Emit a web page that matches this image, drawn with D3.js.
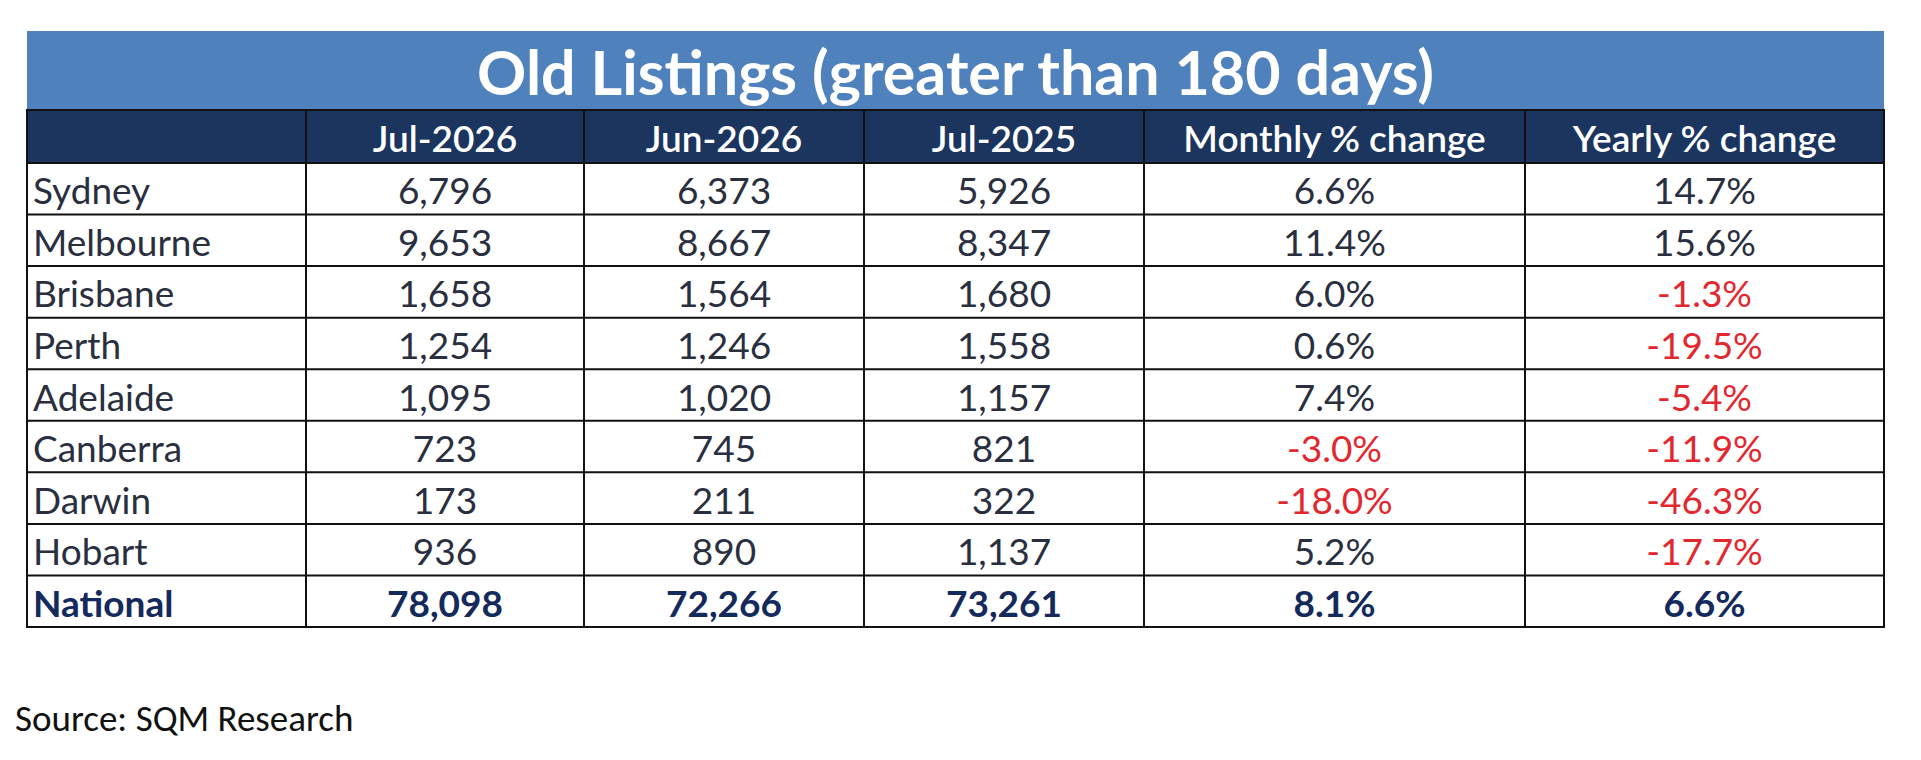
<!DOCTYPE html>
<html>
<head>
<meta charset="utf-8">
<script src="https://cdn.jsdelivr.net/npm/d3@7"></script>
<style>
  body { margin: 0; background: #fff; }
  svg { display: block; }
</style>
</head>
<body>
<div id="table"></div>
<script>
/* CONSTANTS AND GLOBALS */
const width = 1921;
const height = 760;

/* DATA */
const title = "Old Listings (greater than 180 days)";
const headers = ["", "Jul-2026", "Jun-2026", "Jul-2025", "Monthly % change", "Yearly % change"];
const cities = ["Sydney", "Melbourne", "Brisbane", "Perth", "Adelaide", "Canberra", "Darwin", "Hobart", "National"];
const jul2026 = [6796, 9653, 1658, 1254, 1095, 723, 173, 936, 78098];
const jun2026 = [6373, 8667, 1564, 1246, 1020, 745, 211, 890, 72266];
const jul2025 = [5926, 8347, 1680, 1558, 1157, 821, 322, 1137, 73261];
const monthlyChange = [6.6, 11.4, 6.0, 0.6, 7.4, -3.0, -18.0, 5.2, 8.1];
const yearlyChange = [14.7, 15.6, -1.3, -19.5, -5.4, -11.9, -46.3, -17.7, 6.6];
const source = "Source: SQM Research";

/* LAYOUT */
const left = 27, right = 1884;
const titleTop = 31, headTop = 110, headBottom = 163, tableBottom = 627;
// column edges (left edge of each column + right edge of table)
const colEdges = [27, 306, 584, 864, 1144, 1525, 1884];

// plain hyphen for negatives, like the original
const locale = d3.formatLocale({ decimal: ".", thousands: ",", grouping: [3], currency: ["", ""], minus: "-" });
const fmtNum = locale.format(",");
const fmtPct = d => locale.format(".1f")(d) + "%";

/* SCALES */
const colScale = d3.scaleOrdinal()
  .domain(headers.map((d, i) => i))
  .range(colEdges.slice(0, -1));
const colWidth = i => colEdges[i + 1] - colEdges[i];

const yScale = d3.scaleBand()
  .domain(cities)
  .range([headBottom, tableBottom]);

// cells built from the named arrays
const rows = cities.map((c, i) => [
  { text: c, left: true },
  { text: fmtNum(jul2026[i]) },
  { text: fmtNum(jun2026[i]) },
  { text: fmtNum(jul2025[i]) },
  { text: fmtPct(monthlyChange[i]), neg: monthlyChange[i] < 0 },
  { text: fmtPct(yearlyChange[i]), neg: yearlyChange[i] < 0 }
].map((d, j) => ({ ...d, row: c, col: j, bold: c === "National" })));

/* HTML ELEMENTS */
const svg = d3.select("#table")
  .append("svg")
  .attr("width", width)
  .attr("height", height)
  .style("font-family", "Lato, 'Open Sans', sans-serif");

// title band
svg.append("rect")
  .attr("x", left).attr("y", titleTop)
  .attr("width", right - left).attr("height", headTop - titleTop)
  .attr("fill", "#4f81bd");

svg.append("text")
  .attr("x", (left + right) / 2)
  .attr("y", (titleTop + headTop) / 2 + 1)
  .attr("text-anchor", "middle")
  .attr("dominant-baseline", "central")
  .attr("fill", "#fff")
  .attr("font-weight", 700)
  .attr("font-size", 61)
  .text(title);

// header band
svg.append("rect")
  .attr("x", left).attr("y", headTop)
  .attr("width", right - left).attr("height", headBottom - headTop)
  .attr("fill", "#1b355e");

svg.selectAll("text.head")
  .data(headers)
  .join("text")
  .attr("class", "head")
  .attr("x", (d, i) => colScale(i) + colWidth(i) / 2)
  .attr("y", (headTop + headBottom) / 2 + 1)
  .attr("text-anchor", "middle")
  .attr("dominant-baseline", "central")
  .attr("fill", "#fff")
  .attr("font-weight", 600)
  .attr("font-size", 37)
  .text(d => d);

// body cells
svg.selectAll("text.cell")
  .data(rows.flat())
  .join("text")
  .attr("class", "cell")
  .attr("x", d => d.left ? colScale(d.col) + 6 : colScale(d.col) + colWidth(d.col) / 2)
  .attr("y", d => yScale(d.row) + yScale.bandwidth() / 2 + 1)
  .attr("text-anchor", d => d.left ? "start" : "middle")
  .attr("dominant-baseline", "central")
  .attr("fill", d => d.neg ? "#e3272f" : (d.bold ? "#152a5c" : "#2a2f3f"))
  .attr("font-weight", d => d.bold ? 700 : 400)
  .attr("font-size", 37)
  .text(d => d.text);

// grid lines
const grid = svg.append("g")
  .attr("stroke", "#111")
  .attr("stroke-width", 2)
  .attr("fill", "none");

grid.selectAll("line.h")
  .data(cities.slice(1))
  .join("line")
  .attr("x1", left).attr("x2", right)
  .attr("y1", d => yScale(d)).attr("y2", d => yScale(d));

grid.selectAll("line.v")
  .data(headers.slice(1).map((d, i) => i + 1))
  .join("line")
  .attr("x1", d => colScale(d)).attr("x2", d => colScale(d))
  .attr("y1", headTop).attr("y2", tableBottom);

grid.append("line")
  .attr("x1", left).attr("x2", right)
  .attr("y1", headBottom).attr("y2", headBottom);

grid.append("rect")
  .attr("x", left).attr("y", headTop)
  .attr("width", right - left).attr("height", tableBottom - headTop);

// source
svg.append("text")
  .attr("x", 15)
  .attr("y", 718)
  .attr("dominant-baseline", "central")
  .attr("fill", "#111")
  .attr("font-family", "Carlito, Lato, sans-serif")
  .attr("font-size", 37)
  .text(source);
</script>
</body>
</html>
